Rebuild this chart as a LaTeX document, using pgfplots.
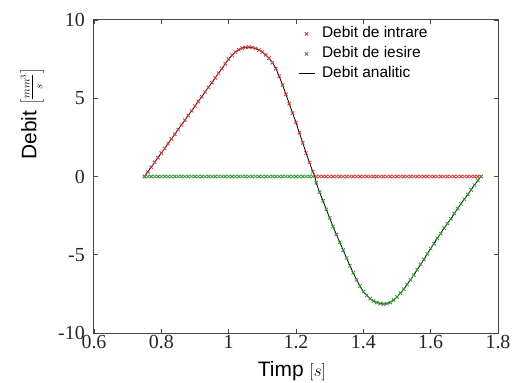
\documentclass[border=0pt]{standalone}
\usepackage{pgfplots}
\pgfplotsset{compat=1.18}
\usepackage{pgfplotstable}
\usepackage{fontspec}
\setmainfont{Liberation Sans}
\newfontfamily\serifnum{Liberation Serif}
\definecolor{cred}{RGB}{205,60,60}
\definecolor{cgreen}{RGB}{50,150,50}
\definecolor{axgray}{RGB}{70,70,70}

\pgfplotstableread{
x y
0.75 0
0.76 0.3
0.77 0.6
0.78 0.9
0.79 1.2
0.80 1.5
0.81 1.8
0.82 2.1
0.83 2.4
0.84 2.7
0.85 3.0
0.86 3.3
0.87 3.6
0.88 3.9
0.89 4.2
0.90 4.5
0.91 4.8
0.92 5.1
0.93 5.4
0.94 5.7
0.95 6.0
0.96 6.3
0.97 6.6
0.98 6.9
0.99 7.2
1.00 7.5
1.01 7.75
1.02 7.95
1.03 8.1
1.04 8.2
1.05 8.25
1.06 8.27
1.07 8.25
1.08 8.18
1.09 8.08
1.10 7.95
1.11 7.78
1.12 7.56
1.13 7.28
1.14 6.9
1.15 6.4
1.16 5.85
1.17 5.25
1.18 4.65
1.19 4.05
1.20 3.45
1.21 2.8
1.22 2.15
1.23 1.5
1.24 0.9
1.25 0.3
1.26 0
1.27 0
1.28 0
1.29 0
1.30 0
1.31 0
1.32 0
1.33 0
1.34 0
1.35 0
1.36 0
1.37 0
1.38 0
1.39 0
1.40 0
1.41 0
1.42 0
1.43 0
1.44 0
1.45 0
1.46 0
1.47 0
1.48 0
1.49 0
1.50 0
1.51 0
1.52 0
1.53 0
1.54 0
1.55 0
1.56 0
1.57 0
1.58 0
1.59 0
1.60 0
1.61 0
1.62 0
1.63 0
1.64 0
1.65 0
1.66 0
1.67 0
1.68 0
1.69 0
1.70 0
1.71 0
1.72 0
1.73 0
1.74 0
1.75 0
}\inflow

\pgfplotstableread{
x y
0.75 0
0.76 0
0.77 0
0.78 0
0.79 0
0.80 0
0.81 0
0.82 0
0.83 0
0.84 0
0.85 0
0.86 0
0.87 0
0.88 0
0.89 0
0.90 0
0.91 0
0.92 0
0.93 0
0.94 0
0.95 0
0.96 0
0.97 0
0.98 0
0.99 0
1.00 0
1.01 0
1.02 0
1.03 0
1.04 0
1.05 0
1.06 0
1.07 0
1.08 0
1.09 0
1.10 0
1.11 0
1.12 0
1.13 0
1.14 0
1.15 0
1.16 0
1.17 0
1.18 0
1.19 0
1.20 0
1.21 0
1.22 0
1.23 0
1.24 0
1.25 0
1.26 -0.4
1.27 -1.0
1.28 -1.55
1.29 -2.1
1.30 -2.65
1.31 -3.2
1.32 -3.7
1.33 -4.2
1.34 -4.7
1.35 -5.2
1.36 -5.7
1.37 -6.15
1.38 -6.6
1.39 -7.0
1.40 -7.35
1.41 -7.6
1.42 -7.8
1.43 -7.95
1.44 -8.05
1.45 -8.12
1.46 -8.15
1.47 -8.12
1.48 -8.05
1.49 -7.9
1.50 -7.7
1.51 -7.45
1.52 -7.2
1.53 -6.9
1.54 -6.6
1.55 -6.3
1.56 -5.95
1.57 -5.6
1.58 -5.3
1.59 -4.95
1.60 -4.6
1.61 -4.3
1.62 -3.95
1.63 -3.65
1.64 -3.3
1.65 -3.0
1.66 -2.7
1.67 -2.35
1.68 -2.05
1.69 -1.75
1.70 -1.45
1.71 -1.15
1.72 -0.85
1.73 -0.55
1.74 -0.25
1.75 0
}\outflow

\pgfplotstableread{
x y
0.75 0
0.80 1.5
0.85 3.0
0.90 4.5
0.95 6.0
0.98 6.9
1.00 7.5
1.02 7.95
1.04 8.2
1.06 8.27
1.08 8.18
1.10 7.95
1.12 7.56
1.13 7.28
1.14 6.9
1.15 6.4
1.16 5.85
1.17 5.25
1.18 4.65
1.19 4.05
1.20 3.45
1.21 2.8
1.22 2.15
1.23 1.5
1.24 0.9
1.25 0.3
1.256 0
1.26 -0.4
1.27 -1.0
1.28 -1.55
1.29 -2.1
1.30 -2.65
1.31 -3.2
1.32 -3.7
1.33 -4.2
1.34 -4.7
1.35 -5.2
1.36 -5.7
1.37 -6.15
1.38 -6.6
1.39 -7.0
1.40 -7.35
1.41 -7.6
1.42 -7.8
1.43 -7.95
1.44 -8.05
1.46 -8.15
1.48 -8.05
1.50 -7.7
1.52 -7.2
1.54 -6.6
1.56 -5.95
1.58 -5.3
1.60 -4.6
1.62 -3.95
1.64 -3.3
1.66 -2.7
1.68 -2.05
1.70 -1.45
1.72 -0.85
1.74 -0.25
1.75 0
}\analytic

\begin{document}
\begin{tikzpicture}
\useasboundingbox (-94bp,-50bp) rectangle (418bp,333bp);
\begin{axis}[
  scale only axis, width=404bp, height=313bp,
  xmin=0.6, xmax=1.8, ymin=-10, ymax=10,
  xtick={0.6,0.8,1,1.2,1.4,1.6,1.8},
  xticklabels={0.6,0.8,1,1.2,1.4,1.6,1.8},
  ytick={-10,-5,0,5,10},
  yticklabels={-10,-5,0,5,10},
  tick align=inside, major tick length=4bp,
  axis line style={axgray, line width=1bp},
  tick style={axgray, line width=0.8bp},
  ticklabel style={font=\serifnum\fontsize{20}{20}\selectfont, text=black!85},
  xticklabel style={inner sep=2bp},
  yticklabel style={inner sep=2bp, xshift=-7bp},
  xlabel={Timp {\fontsize{19}{19}\selectfont$[s]$}},
  ylabel={Debit {\fontsize{16}{16}\selectfont$\left[\frac{mm^3}{s}\right]$}},
  label style={font=\fontsize{21}{24}\selectfont},
  xlabel style={at={(axis description cs:0.49,-0.122)}, anchor=center},
  ylabel style={at={(axis description cs:-0.153,0.70)}, anchor=center},
  legend style={at={(axis description cs:0.505,0.985)}, anchor=north west,
    draw=none, fill=none, inner sep=0pt, row sep=2bp,
    font=\fontsize{15.5}{18}\selectfont,
    nodes={text height=11bp, text depth=3bp, inner sep=2bp},
    /tikz/every odd column/.append style={column sep=5bp}},
  legend cell align=left,
  legend image code/.code={\draw[mark repeat=2,mark phase=2,#1] plot coordinates {(0bp,0bp) (8bp,0bp) (16bp,0bp)};},
]
\addplot[only marks, mark=x, mark size=2.4bp, cred, line width=0.8bp] table[x=x,y=y] {\inflow};
\addlegendentry{Debit de intrare}
\addplot[only marks, mark=x, mark size=2.4bp, cgreen, line width=0.8bp] table[x=x,y=y] {\outflow};
\addlegendentry{Debit de iesire}
\addplot[black, line width=0.8bp, smooth, tension=0.3] table[x=x,y=y] {\analytic};
\addlegendentry{Debit analitic}
\end{axis}
\end{tikzpicture}
\end{document}
